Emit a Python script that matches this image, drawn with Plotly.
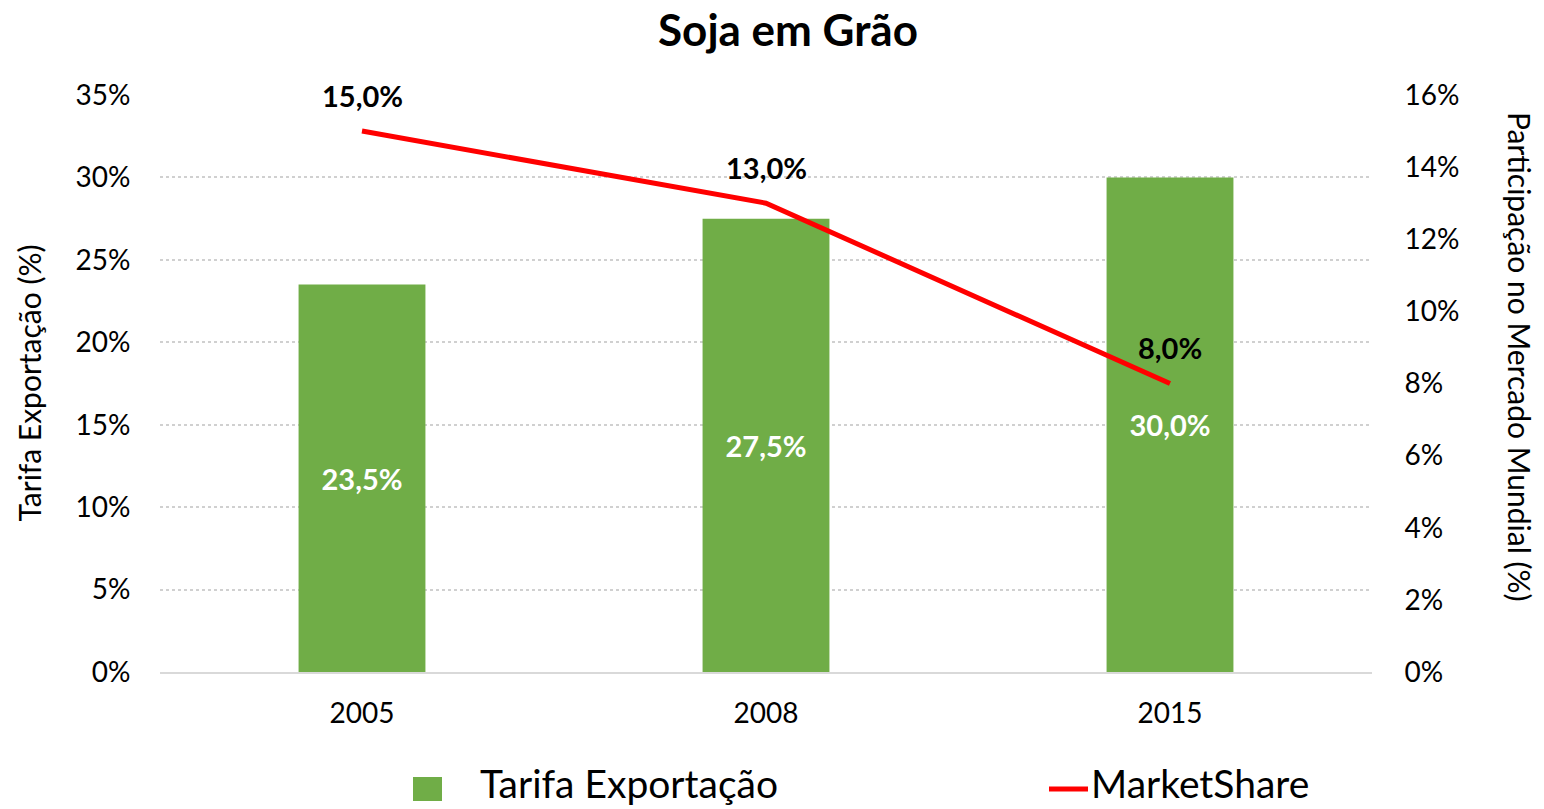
import plotly.graph_objects as go

years = ["2005", "2008", "2015"]
tarifa = [23.5, 27.5, 30.0]
market_share = [15.0, 13.0, 8.0]
left_ticks = [0, 5, 10, 15, 20, 25, 30, 35]
right_ticks = [0, 2, 4, 6, 8, 10, 12, 14, 16]

FONT = "Lato"
GREEN = "#70AD47"
RED = "#FF0000"

W, H = 1544, 809
ML, MR, MT, MB = 160, 172, 95, 137
plot_w = W - ML - MR
plot_h = H - MT - MB


def fmt(v):
    return f"{v:.1f}".replace(".", ",") + "%"


def px_x(px):
    return (px - ML) / plot_w


def px_y(py):
    return (H - MB - py) / plot_h


fig = go.Figure()
fig.add_trace(go.Bar(
    x=years, y=tarifa, name="Tarifa Exportação",
    marker=dict(color=GREEN, line=dict(width=0)),
    width=0.314,
    text=[fmt(v) for v in tarifa], textposition="inside",
    insidetextanchor="middle",
    textfont=dict(family=FONT, size=29, color="white", weight="bold"),
    showlegend=False,
))
fig.add_trace(go.Scatter(
    x=years, y=market_share, name="MarketShare", yaxis="y2",
    mode="lines", line=dict(color=RED, width=5), showlegend=False,
))

for i, v in enumerate(market_share):
    fig.add_annotation(x=i, y=v, xref="x", yref="y2", yshift=36,
                       text=fmt(v), showarrow=False,
                       font=dict(family=FONT, size=29, color="black", weight="bold"))

# axis titles
fig.add_annotation(x=px_x(28), y=0.5, xref="paper", yref="paper", xanchor="center",
                   yanchor="middle", showarrow=False, textangle=-90,
                   text="Tarifa Exportação (%)",
                   font=dict(family=FONT, size=30, color="black"))
fig.add_annotation(x=px_x(1520), y=px_y(357), xref="paper", yref="paper",
                   xanchor="center", yanchor="middle", showarrow=False,
                   textangle=90, text="Participação no Mercado Mundial (%)",
                   font=dict(family=FONT, size=30, color="black"))

fig.update_layout(
    width=W, height=H,
    margin=dict(l=ML, r=MR, t=MT, b=MB),
    paper_bgcolor="white", plot_bgcolor="white",
    font=dict(family=FONT, color="black"),
    title=dict(text="<b>Soja em Grão</b>", x=px_x(788), xref="paper", xanchor="center",
               y=1 - 31 / H, yref="container", yanchor="middle",
               font=dict(family=FONT, size=44, color="black")),
    xaxis=dict(type="category", range=[-0.5, 2.5], autorange=False,
               showgrid=False, showline=True,
               linecolor="#D9D9D9", linewidth=1.5,
               ticks="outside", ticklen=16, tickcolor="rgba(0,0,0,0)",
               tickfont=dict(family=FONT, size=28, color="black")),
    yaxis=dict(range=[0, 35], autorange=False, tickvals=left_ticks,
               ticktext=[f"{v}%" for v in left_ticks],
               showgrid=True, gridcolor="#D0D0D0", griddash="dot", gridwidth=1.5,
               zeroline=False, showline=False,
               ticks="outside", ticklen=23, tickcolor="rgba(0,0,0,0)",
               tickfont=dict(family=FONT, size=28, color="black")),
    yaxis2=dict(range=[0, 16], autorange=False, tickvals=right_ticks,
                ticktext=[f"{v}%" for v in right_ticks],
                overlaying="y", side="right", showgrid=False, zeroline=False,
                showline=False,
                ticks="outside", ticklen=26, tickcolor="rgba(0,0,0,0)",
                tickfont=dict(family=FONT, size=28, color="black")),
)

# manual legend
fig.add_shape(type="rect", xref="paper", yref="paper",
              x0=px_x(413), x1=px_x(442), y0=px_y(801), y1=px_y(777),
              fillcolor=GREEN, line=dict(width=0))
fig.add_annotation(x=px_x(478), y=px_y(783), xref="paper", yref="paper",
                   xanchor="left", yanchor="middle", showarrow=False,
                   text="Tarifa Exportação",
                   font=dict(family=FONT, size=39, color="black"))
fig.add_shape(type="line", xref="paper", yref="paper",
              x0=px_x(1049), x1=px_x(1088), y0=px_y(789), y1=px_y(789),
              line=dict(color=RED, width=5))
fig.add_annotation(x=px_x(1089), y=px_y(783), xref="paper", yref="paper",
                   xanchor="left", yanchor="middle", showarrow=False,
                   text="MarketShare",
                   font=dict(family=FONT, size=39, color="black"))

fig.write_html("out.html", config={"displayModeBar": False},
               post_script="document.body.style.margin='0';document.body.style.overflow='hidden';")
